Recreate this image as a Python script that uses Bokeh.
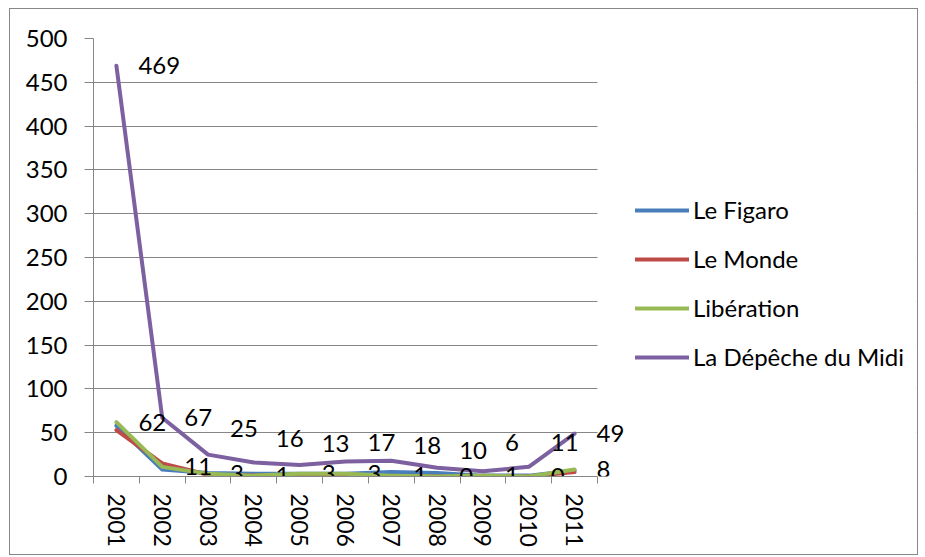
from bokeh.plotting import figure
from bokeh.models import Range1d, FixedTicker, Legend, LegendItem, ColumnDataSource, BoxAnnotation
from bokeh.core.properties import value
from bokeh.embed import file_html
from bokeh.resources import INLINE

# ---- data ----
years = ["2001", "2002", "2003", "2004", "2005", "2006", "2007", "2008", "2009", "2010", "2011"]
le_figaro = [58, 8, 4, 3, 3, 3, 5, 4, 1, 1, 7]
le_monde = [53, 15, 2, 1, 1, 0, 0, 0, 0, 0, 5]
liberation = [62, 11, 3, 1, 3, 3, 1, 0, 1, 0, 8]
depeche = [469, 67, 25, 16, 13, 17, 18, 10, 6, 11, 49]
series_names = ["Le Figaro", "Le Monde", "Libération", "La Dépêche du Midi"]
y_ticks = [0, 50, 100, 150, 200, 250, 300, 350, 400, 450, 500]

# ---- style ----
colors = ["#4A7EBB", "#BE4B48", "#98B954", "#7D60A0"]
FONT = "Lato"
FS = "24px"
GRAY = "#868686"
depeche_label_dy = [0, 0, -26, -24, -22, -19, -15, -17, -29, -24, 0]

n = len(years)
xs = list(range(1, n + 1))
# categories occupy 0.5 .. n+0.5 (504 px); the frame continues to the right so that
# end labels and the legend are not clipped
x_end = 0.5 + n * (822 / 504)

p = figure(width=909, height=547, output_backend="svg", toolbar_location=None,
           x_range=Range1d(0.5, x_end), y_range=Range1d(0, 500),
           min_border_left=83, min_border_right=4, min_border_top=29, min_border_bottom=80,
           background_fill_color="white", border_fill_color="white")
p.styles = {"border": "1px solid #878787", "margin-left": "9px", "margin-top": "8px"}
p.outline_line_color = None
p.xgrid.visible = False
p.ygrid.grid_line_color = GRAY
p.ygrid.grid_line_width = 1
# hide grid beyond the last category
p.add_layout(BoxAnnotation(left=n + 0.5, fill_color="white", fill_alpha=1,
                           line_color=None, level="underlay"))

p.yaxis.ticker = FixedTicker(ticks=y_ticks)
p.yaxis.axis_line_color = GRAY
p.yaxis.major_tick_line_color = GRAY
p.yaxis.major_tick_out = 9
p.yaxis.major_tick_in = 0
p.yaxis.minor_tick_line_color = None
p.yaxis.major_label_standoff = 17
p.yaxis.major_label_text_font = FONT
p.yaxis.major_label_text_font_size = FS
p.yaxis.major_label_text_color = "black"

p.xaxis.ticker = FixedTicker(ticks=xs, minor_ticks=[i + 0.5 for i in range(n + 1)])
p.xaxis.bounds = (0.5, n + 0.5)
p.xaxis.major_label_overrides = {x: y for x, y in zip(xs, years)}
p.xaxis.axis_line_color = GRAY
p.xaxis.major_tick_line_color = None
p.xaxis.major_tick_out = 7
p.xaxis.major_tick_in = 0
p.xaxis.minor_tick_line_color = GRAY
p.xaxis.minor_tick_out = 7
p.xaxis.minor_tick_in = 0
p.xaxis.major_label_orientation = "vertical"
p.xaxis.major_label_standoff = 10
p.xaxis.major_label_text_font = FONT
p.xaxis.major_label_text_font_size = "23px"
p.xaxis.major_label_text_color = "black"

items = []
for name, vals, c in zip(series_names, [le_figaro, le_monde, liberation, depeche], colors):
    r = p.line(xs, vals, line_color=c, line_width=4, line_join="round", line_cap="round")
    items.append(LegendItem(label=name, renderers=[r]))

lib_src = ColumnDataSource(dict(x=xs, y=liberation, t=[str(v) for v in liberation]))
p.text(x="x", y="y", text="t", source=lib_src, x_offset=22, y_offset=0,
       text_align="left", text_baseline="middle", text_font=value(FONT),
       text_font_size=FS, text_color="black")

dep_src = ColumnDataSource(dict(x=xs, y=depeche, t=[str(v) for v in depeche], dy=depeche_label_dy))
p.text(x="x", y="y", text="t", source=dep_src, x_offset=22, y_offset="dy",
       text_align="left", text_baseline="middle", text_font=value(FONT),
       text_font_size=FS, text_color="black")

legend = Legend(items=items, location=(542, 105), padding=0, margin=0,
                border_line_color=None, background_fill_alpha=0,
                glyph_width=54, glyph_height=24, label_height=24, label_standoff=4, spacing=20,
                label_text_font=FONT, label_text_font_size=FS, label_text_color="black")
p.add_layout(legend, "center")

open("out.html", "w").write(file_html(p, INLINE))
